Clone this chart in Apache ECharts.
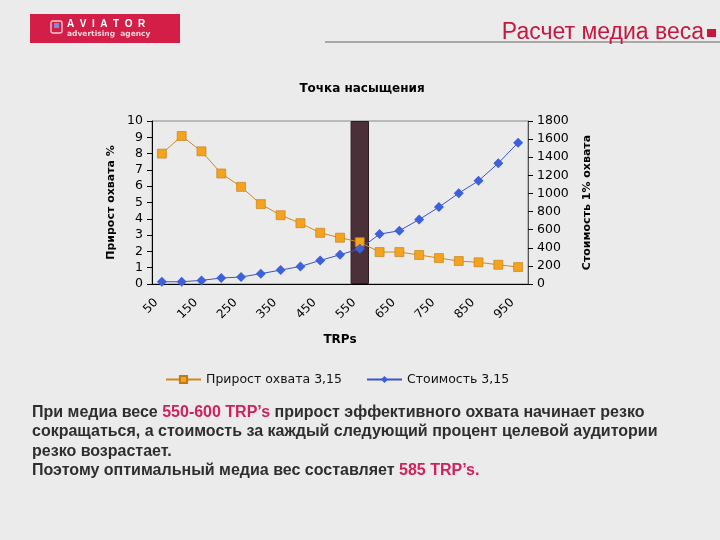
<!DOCTYPE html>
<html><head><meta charset="utf-8">
<script src="https://cdn.jsdelivr.net/npm/echarts@6/dist/echarts.min.js"></script>
<style>html,body{margin:0;padding:0;background:#ebebeb;}#c{width:720px;height:540px;}</style>
</head><body><div id="c"></div>
<script>
const trps = ['50','100','150','200','250','300','350','400','450','500','550','600','650','700','750','800','850','900','950'];
const growth = [8.0, 9.08, 8.14, 6.78, 5.96, 4.9, 4.22, 3.73, 3.14, 2.84, 2.57, 1.96, 1.96, 1.78, 1.59, 1.41, 1.33, 1.18, 1.04];
const cost = [25, 25, 40, 66, 77, 114, 154, 194, 260, 323, 389, 551, 588, 712, 849, 1003, 1139, 1334, 1561];
const saturation = [null,null,null,null,null,null,null,null,null,null,10,null,null,null,null,null,null,null,null];
const leftTicks = [0,10,1];
const rightTicks = [0,1800,200];

const chart = echarts.init(document.getElementById('c'));
const F = 'DejaVu Sans, Verdana, sans-serif';
const red = '#c8173f';
const opt = {
  backgroundColor: '#ebebeb',
  animation: false,
  title: {
    text: 'Точка насыщения', left: 357, top: 78, textAlign: 'center',
    textStyle: {fontFamily: F, fontSize: 12, fontWeight: 'bold', color: '#000'}
  },
  legend: {
    left: 160, top: 368, itemWidth: 35, itemHeight: 9, itemGap: 24,
    textStyle: {fontFamily: F, fontSize: 12.5, color: '#111'},
    data: ['Прирост охвата 3,15', 'Стоимость 3,15']
  },
  grid: {left: 152, right: 192, top: 121, bottom: 256, show: true, borderColor: '#888', borderWidth: 1, backgroundColor: 'transparent'},
  xAxis: {
    type: 'category', data: trps, boundaryGap: true,
    name: 'TRPs', nameLocation: 'middle', nameGap: 50,
    nameTextStyle: {fontFamily: F, fontSize: 12, fontWeight: 'bold', color: '#000'},
    axisLine: {lineStyle: {color: '#000'}},
    axisTick: {interval: 0, length: 5, inside: false, lineStyle: {color: '#000'}},
    axisLabel: {interval: 1, rotate: 45, fontFamily: F, fontSize: 12, color: '#000', margin: 11, padding: [0, 8, 0, 0]}
  },
  yAxis: [{
    type: 'value', min: leftTicks[0], max: leftTicks[1], interval: leftTicks[2],
    name: 'Прирост охвата %', nameLocation: 'middle', nameGap: 33, nameRotate: 90,
    nameTextStyle: {fontFamily: F, fontSize: 11, fontWeight: 'bold', color: '#000'},
    axisLine: {show: true, lineStyle: {color: '#000'}},
    axisTick: {show: true, length: 5, lineStyle: {color: '#000'}},
    splitLine: {show: false},
    axisLabel: {fontFamily: F, fontSize: 12.5, color: '#000', margin: 9}
  }, {
    type: 'value', min: rightTicks[0], max: rightTicks[1], interval: rightTicks[2],
    name: 'Стоимость 1% охвата', nameLocation: 'middle', nameGap: 54, nameRotate: 90,
    nameTextStyle: {fontFamily: F, fontSize: 11, fontWeight: 'bold', color: '#000'},
    axisLine: {show: true, lineStyle: {color: '#555'}},
    axisTick: {show: true, length: 5, lineStyle: {color: '#000'}},
    splitLine: {show: false},
    axisLabel: {fontFamily: F, fontSize: 12.5, color: '#000', margin: 9, formatter: v => String(v)}
  }],
  series: [{
    name: 'saturation', type: 'bar', yAxisIndex: 0, data: saturation, barWidth: '93%', z: 1,
    itemStyle: {color: '#4b2f39', borderColor: '#2b1a20', borderWidth: 1}
  }, {
    name: 'Прирост охвата 3,15', type: 'line', yAxisIndex: 0, data: growth, z: 3,
    symbol: 'rect', symbolSize: 9, lineStyle: {color: '#d08a1c', width: 1},
    itemStyle: {color: '#f5a21f', borderColor: '#c07a10', borderWidth: 0.6}, color: '#f5a21f'
  }, {
    name: 'Стоимость 3,15', type: 'line', yAxisIndex: 1, data: cost, z: 4,
    symbol: 'diamond', symbolSize: 10, lineStyle: {color: '#3a55c8', width: 1},
    itemStyle: {color: '#3d60dc'}, color: '#3d60dc'
  }],
  graphic: [
    {type: 'rect', shape: {x: 30, y: 14, width: 150, height: 29}, style: {fill: '#d31e48'}},
    {type: 'rect', shape: {x: 51, y: 21, width: 11, height: 12, r: 2}, style: {fill: 'none', stroke: '#f4d0d8', lineWidth: 1.3}},
    {type: 'rect', shape: {x: 54, y: 23, width: 5, height: 5}, style: {fill: '#7a8fd8'}},
    {type: 'text', style: {x: 67, y: 19, text: 'A  V  I  A  T  O  R', fill: '#fff', font: 'bold 10px Liberation Sans, Arial'}},
    {type: 'text', style: {x: 67, y: 30, text: 'advertising  agency', fill: '#f4d6dc', font: 'bold 7.5px DejaVu Sans, Arial'}},
    {type: 'line', shape: {x1: 325, y1: 42, x2: 720, y2: 42}, style: {stroke: '#a8a8a8', lineWidth: 2}},
    {type: 'text', style: {x: 704, y: 44, text: 'Расчет медиа веса', fill: red, font: '23px Liberation Sans, Arial', textAlign: 'right', textVerticalAlign: 'bottom'}},
    {type: 'rect', shape: {x: 707, y: 29, width: 9, height: 8}, style: {fill: red}},
    {type: 'text', style: {x: 32, y: 403, lineHeight: 19.3,
      text: '{n|При медиа весе }{r|550-600 TRP’s}{n| прирост эффективного охвата начинает резко}\n{n|сокращаться, а стоимость за каждый следующий процент целевой аудитории}\n{n|резко возрастает.}\n{n|Поэтому оптимальный медиа вес составляет }{r|585 TRP’s.}',
      rich: {
        n: {fill: '#2e2e2e', font: 'bold 16px Liberation Sans, Arial', lineHeight: 19.3},
        r: {fill: '#d0215a', font: 'bold 16px Liberation Sans, Arial', lineHeight: 19.3}
      }}}
  ]
};
chart.setOption(opt);
</script></body></html>
